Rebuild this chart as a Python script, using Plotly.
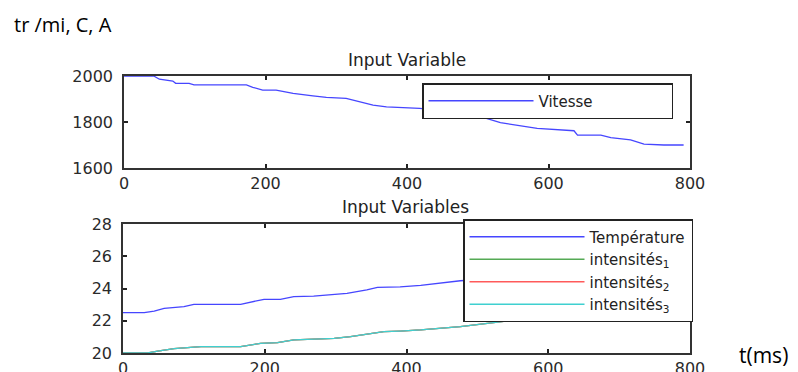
import plotly.graph_objects as go

# ---- data ----
t_vitesse = [0, 42, 50, 69, 73, 92, 99, 173, 182, 196, 215, 239, 267, 286, 314, 333, 352, 371,
             390, 418, 485, 504, 532, 560, 584, 636, 641, 674, 688, 716, 735, 763, 791]
vitesse = [2000, 2000, 1986, 1978, 1968, 1968, 1961, 1961, 1951, 1939, 1939, 1924, 1914, 1907, 1903, 1888, 1873, 1866,
           1864, 1859, 1838, 1823, 1797, 1783, 1772, 1762, 1743, 1743, 1732, 1722, 1704, 1700, 1700]

t_temp = [0, 30, 44, 58, 86, 100, 166, 185, 199, 222, 241, 269, 298, 316, 344, 359, 391, 420, 476,
          520, 580, 640, 700, 760, 791]
temperature = [22.5, 22.5, 22.6, 22.77, 22.87, 23.02, 23.02, 23.18, 23.33, 23.33, 23.49, 23.53, 23.64, 23.7, 23.91,
               24.07, 24.1, 24.2, 24.48, 24.6, 24.8, 25.0, 25.2, 25.4, 25.5]

t_int = [0, 35, 49, 72, 110, 166, 194, 218, 241, 298, 321, 345, 368, 391, 420, 476, 514, 551, 579, 603, 636,
         660, 700, 750, 791]
intensite_1 = [20.0, 20.0, 20.12, 20.27, 20.39, 20.39, 20.6, 20.64, 20.81, 20.91, 21.01, 21.18, 21.32, 21.36, 21.43,
               21.63, 21.84, 22.05, 22.19, 22.29, 22.46, 22.7, 22.9, 23.1, 23.3]
intensite_2 = list(intensite_1)
intensite_3 = list(intensite_1)

x_ticks = [0, 200, 400, 600, 800]
y_ticks_top = [1600, 1800, 2000]
y_ticks_bot = [20, 22, 24, 26, 28]

title_top = "Input Variable"
title_bot = "Input Variables"
units_label = "tr /mi, C, A"
time_label = "t(ms)"

# ---- figure ----
W, H = 798, 372
BLUE, GREEN, RED, CYAN = "#4646ff", "#55aa55", "#ff5a5a", "#3fd0d0"
TICKFONT = dict(family="DejaVu Sans", size=16, color="#2a2a2a")

fig = go.Figure()
fig.add_trace(go.Scatter(x=t_vitesse, y=vitesse, mode="lines", name="Vitesse",
                         line=dict(color=BLUE, width=1.3), xaxis="x", yaxis="y", legend="legend"))
fig.add_trace(go.Scatter(x=t_temp, y=temperature, mode="lines", name="Température",
                         line=dict(color=BLUE, width=1.3), xaxis="x2", yaxis="y2", legend="legend2"))
fig.add_trace(go.Scatter(x=t_int, y=intensite_1, mode="lines", name="intensités<sub>1</sub>",
                         line=dict(color=GREEN, width=1.3), xaxis="x2", yaxis="y2", legend="legend2"))
fig.add_trace(go.Scatter(x=t_int, y=intensite_2, mode="lines", name="intensités<sub>2</sub>",
                         line=dict(color=RED, width=1.3), xaxis="x2", yaxis="y2", legend="legend2"))
fig.add_trace(go.Scatter(x=t_int, y=intensite_3, mode="lines", name="intensités<sub>3</sub>",
                         line=dict(color=CYAN, width=1.3), xaxis="x2", yaxis="y2", legend="legend2"))

axis_common = dict(showgrid=False, zeroline=False, showline=True, linecolor="#333333", linewidth=1.6,
                   mirror="ticks", ticks="inside", ticklen=4, tickcolor="#222222", tickwidth=1.5,
                   tickfont=TICKFONT, automargin=False)

fig.update_layout(
    width=W, height=H, margin=dict(l=0, r=0, t=0, b=0, autoexpand=False),
    paper_bgcolor="white", plot_bgcolor="white",
    xaxis=dict(domain=[124 / W, 690 / W], range=[0, 800], tickvals=x_ticks, anchor="y", **axis_common),
    yaxis=dict(domain=[1 - 168 / H, 1 - 76 / H], range=[1600, 2000], tickvals=y_ticks_top, anchor="x",
               ticklabelstandoff=6, **axis_common),
    xaxis2=dict(domain=[123 / W, 690 / W], range=[0, 800], tickvals=x_ticks, anchor="y2", **axis_common),
    yaxis2=dict(domain=[1 - 353 / H, 1 - 224 / H], range=[20, 28], tickvals=y_ticks_bot, anchor="x2",
                ticklabelstandoff=6, **axis_common),
    legend=dict(x=422 / W, y=1 - 83 / H, xanchor="left", yanchor="top", bgcolor="white",
                orientation="h", entrywidth=128, entrywidthmode="pixels",
                bordercolor="#222222", borderwidth=1.5, itemwidth=105,
                font=dict(family="DejaVu Sans", size=15, color="#222222"), tracegroupgap=0),
    legend2=dict(x=463 / W, y=1 - 219 / H, xanchor="left", yanchor="top", bgcolor="white",
                 bordercolor="#222222", borderwidth=1.5, itemwidth=115,
                 font=dict(family="DejaVu Sans", size=15, color="#222222"), tracegroupgap=0),
    showlegend=True,
    annotations=[
        dict(text=title_top, xref="paper", yref="paper", x=407 / W, y=1 - 60 / H, showarrow=False,
             xanchor="center", yanchor="middle", font=dict(family="DejaVu Sans", size=17, color="#222222")),
        dict(text=title_bot, xref="paper", yref="paper", x=405 / W, y=1 - 207 / H, showarrow=False,
             xanchor="center", yanchor="middle", font=dict(family="DejaVu Sans", size=17, color="#222222")),
        dict(text=units_label, xref="paper", yref="paper", x=12 / W, y=1 - 25 / H, showarrow=False,
             xanchor="left", yanchor="middle", font=dict(family="Open Sans", size=20, color="black")),
        dict(text=time_label, xref="paper", yref="paper", x=737 / W, y=1 - 355 / H, showarrow=False,
             xanchor="left", yanchor="middle", font=dict(family="Open Sans", size=21, color="black")),
    ],
)

fig.write_html("out.html")
